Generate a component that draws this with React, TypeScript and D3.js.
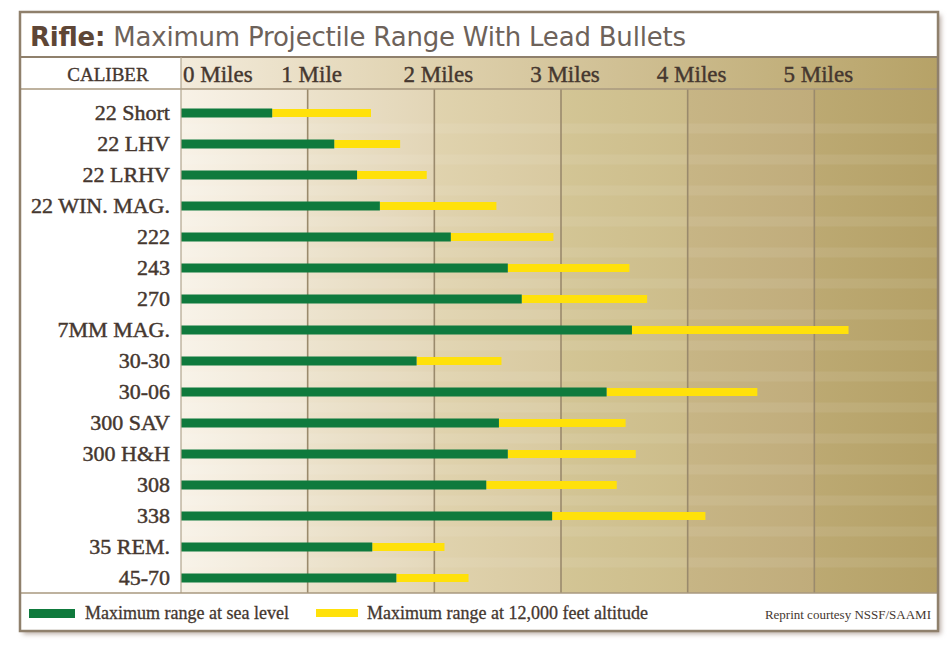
import * as d3 from "d3";
import { useRef, useEffect } from "react";

const calibers = [
  "22 Short", "22 LHV", "22 LRHV", "22 WIN. MAG.", "222", "243", "270", "7MM MAG.",
  "30-30", "30-06", "300 SAV", "300 H&H", "308", "338", "35 REM.", "45-70",
];
// miles
const seaLevel = [0.72, 1.21, 1.39, 1.57, 2.13, 2.58, 2.69, 3.56, 1.86, 3.36, 2.51, 2.58, 2.41, 2.93, 1.51, 1.7];
const altitude = [1.5, 1.73, 1.94, 2.49, 2.94, 3.54, 3.68, 5.27, 2.53, 4.55, 3.51, 3.59, 3.44, 4.14, 2.08, 2.27];
const mileTicks = [0, 1, 2, 3, 4, 5];
const tickLabels = ["0 Miles", "1 Mile", "2 Miles", "3 Miles", "4 Miles", "5 Miles"];
const legendLabels = ["Maximum range at sea level", "Maximum range at 12,000 feet altitude"];

const columnColors = [
  ["#f8f2e7", "#efe6d3"],
  ["#ece2cb", "#e2d5b6"],
  ["#e0d3ae", "#d8c9a0"],
  ["#d3c595", "#ccbc8a"],
  ["#c7b585", "#c0ac7b"],
  ["#bca972", "#b4a066"],
];

export default function App() {
  const svgRef = useRef(null);

  useEffect(() => {
    const width = 950;
    const height = 649;
    const frameLeft = 20;
    const frameRight = 938;
    const frameTop = 12;
    const frameBottom = 631;
    const titleBottom = 57;
    const headerBottom = 89;
    const plotLeft = 181;
    const plotBottom = 593;
    const serif = "'Liberation Serif', 'DejaVu Serif', serif";
    const textColor = "#45372f";
    const lineColor = "#8f806c";

    const svg = d3.select(svgRef.current);
    svg.selectAll("*").remove();
    svg.attr("width", width).attr("height", height).attr("viewBox", [0, 0, width, height]);

    const x = d3.scaleLinear().domain([0, 6]).range([plotLeft, 941]);
    const y = d3.scaleBand().domain(calibers).range([97.5, 593.5]);

    const defs = svg.append("defs");
    defs
      .append("filter")
      .attr("id", "shadow")
      .attr("x", "-5%")
      .attr("y", "-5%")
      .attr("width", "110%")
      .attr("height", "110%")
      .append("feGaussianBlur")
      .attr("stdDeviation", 2.5);

    columnColors.forEach((c, i) => {
      const g = defs.append("linearGradient").attr("id", `col${i}`);
      g.append("stop").attr("offset", "0%").attr("stop-color", c[0]);
      g.append("stop").attr("offset", "100%").attr("stop-color", c[1]);
    });
    const hg = defs.append("linearGradient").attr("id", "header");
    hg.append("stop").attr("offset", "0%").attr("stop-color", "#f3ebdb");
    hg.append("stop").attr("offset", "35%").attr("stop-color", "#ded0ac");
    hg.append("stop").attr("offset", "100%").attr("stop-color", "#b6a267");

    svg.append("rect").attr("width", width).attr("height", height).attr("fill", "#ffffff");

    // shadow + frame
    svg
      .append("rect")
      .attr("x", frameLeft + 3)
      .attr("y", frameTop + 3)
      .attr("width", frameRight - frameLeft)
      .attr("height", frameBottom - frameTop)
      .attr("fill", "#b9aca4")
      .attr("filter", "url(#shadow)");
    svg
      .append("rect")
      .attr("x", frameLeft)
      .attr("y", frameTop)
      .attr("width", frameRight - frameLeft)
      .attr("height", frameBottom - frameTop)
      .attr("fill", "#ffffff");

    // header row
    svg
      .append("rect")
      .attr("x", plotLeft)
      .attr("y", titleBottom)
      .attr("width", frameRight - plotLeft)
      .attr("height", headerBottom - titleBottom)
      .attr("fill", "url(#header)");

    // plot columns
    defs
      .append("clipPath")
      .attr("id", "plotClip")
      .append("rect")
      .attr("x", plotLeft)
      .attr("y", headerBottom)
      .attr("width", frameRight - plotLeft)
      .attr("height", plotBottom - headerBottom);

    const plot = svg.append("g").attr("clip-path", "url(#plotClip)");
    plot
      .append("g")
      .selectAll("rect")
      .data(columnColors)
      .join("rect")
      .attr("x", (d, i) => x(i))
      .attr("y", headerBottom)
      .attr("width", x(1) - x(0))
      .attr("height", plotBottom - headerBottom)
      .attr("fill", (d, i) => `url(#col${i})`);

    // faint light stripes between rows
    plot
      .append("g")
      .selectAll("rect")
      .data(calibers.slice(0, -1))
      .join("rect")
      .attr("x", plotLeft)
      .attr("y", (d) => y(d) + y.bandwidth() - 5)
      .attr("width", frameRight - plotLeft)
      .attr("height", 10)
      .attr("fill", "#ffffff")
      .attr("opacity", 0.08);

    // grid lines
    plot
      .append("g")
      .selectAll("line")
      .data(mileTicks.slice(1))
      .join("line")
      .attr("x1", (d) => x(d))
      .attr("x2", (d) => x(d))
      .attr("y1", headerBottom)
      .attr("y2", plotBottom)
      .attr("stroke", "#9a8a6c")
      .attr("stroke-width", 1.6);

    // bars
    const rows = calibers.map((c, i) => ({ c, sea: seaLevel[i], alt: altitude[i] }));
    plot
      .append("g")
      .selectAll("rect")
      .data(rows)
      .join("rect")
      .attr("x", (d) => x(d.sea))
      .attr("y", (d) => y(d.c) + y.bandwidth() / 2 - 4)
      .attr("width", (d) => x(d.alt) - x(d.sea))
      .attr("height", 8)
      .attr("fill", "#ffe10a");
    plot
      .append("g")
      .selectAll("rect")
      .data(rows)
      .join("rect")
      .attr("x", x(0))
      .attr("y", (d) => y(d.c) + y.bandwidth() / 2 - 4.5)
      .attr("width", (d) => x(d.sea) - x(0))
      .attr("height", 9)
      .attr("fill", "#0f7a3d");

    // caliber labels
    svg
      .append("g")
      .selectAll("text")
      .data(calibers)
      .join("text")
      .attr("x", 170)
      .attr("y", (d) => y(d) + y.bandwidth() / 2 + 7)
      .attr("text-anchor", "end")
      .attr("font-family", serif)
      .attr("font-size", 22)
      .attr("fill", textColor)
      .attr("stroke", textColor)
      .attr("stroke-width", 0.45)
      .text((d) => d);

    // x axis labels in header row
    svg
      .append("g")
      .selectAll("text")
      .data(mileTicks)
      .join("text")
      .attr("x", (d) => (d === 0 ? x(0) + 2 : x(d) + 4))
      .attr("y", 82)
      .attr("text-anchor", (d) => (d === 0 ? "start" : "middle"))
      .attr("font-family", serif)
      .attr("font-size", 23)
      .attr("fill", textColor)
      .attr("stroke", textColor)
      .attr("stroke-width", 0.4)
      .text((d, i) => tickLabels[i]);

    svg
      .append("text")
      .attr("x", 108)
      .attr("y", 81)
      .attr("text-anchor", "middle")
      .attr("font-family", serif)
      .attr("font-size", 19)
      .attr("fill", textColor)
      .attr("stroke", textColor)
      .attr("stroke-width", 0.35)
      .text("CALIBER");

    // title
    const title = svg
      .append("text")
      .attr("x", 30)
      .attr("y", 46)
      .attr("font-family", "'DejaVu Sans', sans-serif")
      .attr("font-size", 26)
      .attr("textLength", 656)
      .attr("lengthAdjust", "spacing");
    title.append("tspan").attr("font-weight", "bold").attr("fill", "#5e4636").text("Rifle:");
    title.append("tspan").attr("fill", "#6d625a").text(" Maximum Projectile Range With Lead Bullets");

    // legend
    const legend = svg.append("g");
    legend.append("rect").attr("x", 29).attr("y", 609).attr("width", 46).attr("height", 9).attr("fill", "#0f7a3d");
    legend.append("rect").attr("x", 316).attr("y", 609).attr("width", 42).attr("height", 8).attr("fill", "#ffe10a");
    legend
      .selectAll("text.lg")
      .data(legendLabels)
      .join("text")
      .attr("class", "lg")
      .attr("x", (d, i) => (i === 0 ? 85 : 367))
      .attr("y", 619)
      .attr("font-family", serif)
      .attr("font-size", 18)
      .attr("fill", textColor)
      .attr("stroke", textColor)
      .attr("stroke-width", 0.3)
      .text((d) => d);
    legend
      .append("text")
      .attr("x", 931)
      .attr("y", 619)
      .attr("text-anchor", "end")
      .attr("font-family", serif)
      .attr("font-size", 13)
      .attr("fill", textColor)
      .text("Reprint courtesy NSSF/SAAMI");

    // frame lines
    const lines = svg.append("g").attr("stroke", lineColor).attr("fill", "none");
    lines.append("line").attr("x1", frameLeft).attr("x2", frameRight).attr("y1", titleBottom).attr("y2", titleBottom).attr("stroke-width", 2);
    lines.append("line").attr("x1", frameLeft).attr("x2", frameRight).attr("y1", headerBottom).attr("y2", headerBottom).attr("stroke-width", 1.5).attr("stroke", "#a9997f");
    lines.append("line").attr("x1", plotLeft).attr("x2", plotLeft).attr("y1", titleBottom).attr("y2", plotBottom).attr("stroke-width", 1.2).attr("stroke", "#b0a48e");
    lines.append("line").attr("x1", frameLeft).attr("x2", frameRight).attr("y1", plotBottom).attr("y2", plotBottom).attr("stroke-width", 1.5).attr("stroke", "#a9997f");
    lines
      .append("rect")
      .attr("x", frameLeft)
      .attr("y", frameTop)
      .attr("width", frameRight - frameLeft)
      .attr("height", frameBottom - frameTop)
      .attr("stroke-width", 2.5);
  }, []);

  return <svg ref={svgRef} style={{ position: "absolute", left: 0, top: 0 }}></svg>;
}
